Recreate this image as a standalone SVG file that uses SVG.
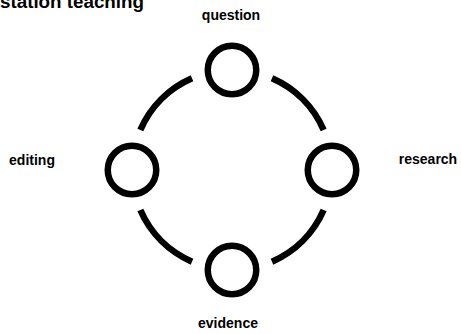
<svg xmlns="http://www.w3.org/2000/svg" width="461" height="334" viewBox="0 0 461 334">
<style>
.lbl{font-family:"Liberation Sans",Arial,sans-serif;font-weight:bold;font-size:14px;fill:#000;text-anchor:middle}
.title{font-family:"Liberation Sans",Arial,sans-serif;font-weight:bold;font-size:18.8px;fill:#000}
.node{fill:#fff;stroke:#000;stroke-width:6.5}
.arc{fill:none;stroke:#000;stroke-width:6.5;stroke-linecap:butt}
</style>
<rect width="461" height="334" fill="#fff"/>
<text class="title" x="0" y="7.5">station teaching</text>
<g id="connectors">
<path class="arc" d="M272,78.35 A100,100 0 0 1 323.65,130"/>
<path class="arc" d="M323.65,210 A100,100 0 0 1 272,261.65"/>
<path class="arc" d="M192,261.65 A100,100 0 0 1 140.35,210"/>
<path class="arc" d="M140.35,130 A100,100 0 0 1 192,78.35"/>
</g>
<g id="question"><circle class="node" cx="232" cy="70" r="24.25"/><text class="lbl" x="231" y="20">question</text></g>
<g id="research"><circle class="node" cx="332" cy="170" r="24.25"/><text class="lbl" x="428" y="163.5">research</text></g>
<g id="evidence"><circle class="node" cx="232" cy="270" r="24.25"/><text class="lbl" x="228" y="328">evidence</text></g>
<g id="editing"><circle class="node" cx="132" cy="170" r="24.25"/><text class="lbl" x="32" y="165">editing</text></g>
</svg>
